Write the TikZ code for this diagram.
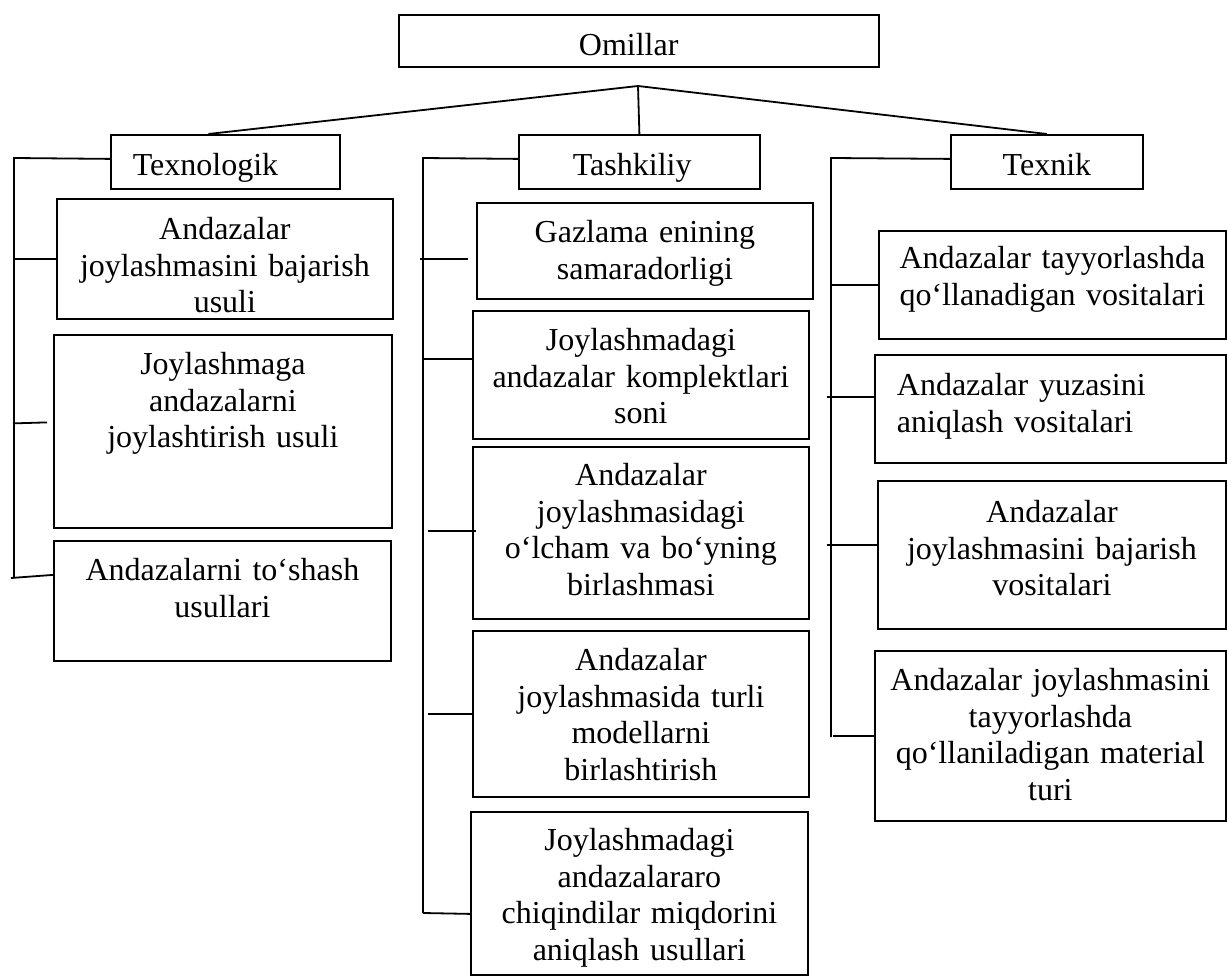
\documentclass[tikz,border=0pt]{standalone}
\usepackage{fontspec}
\setmainfont{Liberation Serif}
\usetikzlibrary{positioning}

\begin{document}
\begin{tikzpicture}[x=1pt,y=-1pt,
    box node/.style={draw,rectangle,line width=1.8pt,inner sep=0pt,anchor=north west,align=center,font=\fontsize{32}{36.5}\selectfont},
    link/.style={-,line width=1.8pt}]
  \useasboundingbox (0,0) rectangle (1227,976);

  \node[box node,align=left,inner xsep=180pt,text width=120pt,text height=41pt,text depth=11pt] (om) at (398,14) {Omillar};

  \node[box node,align=left,inner xsep=22pt,text width=185pt,text height=41pt,text depth=13pt] (tex) at (110,134) {Texnologik};
  \node[box node,align=left,inner xsep=54pt,text width=133pt,text height=41pt,text depth=13pt] (tash) at (518,134) {Tashkiliy};
  \node[box node,text width=192pt,text height=41pt,text depth=13pt] (texn) at (950,134) {Texnik};

  \coordinate (j) at (638,86);
  \path[link] (j) edge ([xshift=-17pt]tex.north);
  \path[link] (j) edge (tash.north);
  \path[link] (j) edge (texn.north);

  % Texnologik
  \begin{scope}
    \node[box node,text width=336pt,text height=41pt,text depth=79pt] (t1) at (56,198) {Andazalar\\joylashmasini bajarish\\usuli};
    \node[box node,text width=338pt,text height=40pt,text depth=153pt] (t2) at (53,334) {Joylashmaga\\andazalarni\\joylashtirish usuli};
    \node[box node,text width=337pt,text height=40pt,text depth=80pt] (t3) at (53,540) {Andazalarni to‘shash\\usullari};

    \coordinate (tl) at (14,158);
    \coordinate (tlb) at (14,578);
    \draw[link] ([yshift=3pt]tex.west) -- (tl) -- (tlb);
    \path[link] (t1.west -| tl) edge (t1.west);
    \path[link] ([shift={(-40,-8)}]t2.west) edge ([shift={(-6,-9)}]t2.west);
    \path[link] ([xshift=-3pt]tlb) edge ([yshift=26pt]t3.west);
  \end{scope}

  % Tashkiliy
  \begin{scope}
    \node[box node,text width=336pt,text height=40pt,text depth=56pt] (g1) at (476,202) {Gazlama enining\\samaradorligi};
    \node[box node,text width=336pt,text height=40pt,text depth=88pt] (g2) at (472,310) {Joylashmadagi\\andazalar komplektlari\\soni};
    \node[box node,text width=336pt,text height=39pt,text depth=133pt] (g3) at (472,446) {Andazalar\\joylashmasidagi\\o‘lcham va bo‘yning\\birlashmasi};
    \node[box node,text width=336pt,text height=40pt,text depth=126pt] (g4) at (472,630) {Andazalar\\joylashmasida turli\\modellarni\\birlashtirish};
    \node[box node,text width=337pt,text height=39pt,text depth=124pt] (g5) at (470,811) {Joylashmadagi\\andazalararo\\chiqindilar miqdorini\\aniqlash usullari};

    \coordinate (sl) at (423,158);
    \coordinate (slb) at (423,913);
    \draw[link] ([yshift=3pt]tash.west) -- (sl) -- (slb);
    \path[link] ([shift={(-56,8)}]g1.west) edge ([shift={(-8,8)}]g1.west);
    \path[link] ([shift={(-49,-16)}]g2.west) edge ([yshift=16pt]g2.west);
    \path[link] ([shift={(-44,-2)}]g3.west) edge ([shift={(4,-2)}]g3.west);
    \path[link] ([xshift=-44pt]g4.west) edge (g4.west);
    \path[link] (slb) edge ([yshift=-20.5pt]g5.west);
  \end{scope}

  % Texnik
  \begin{scope}
    \node[box node,text width=347pt,text height=38pt,text depth=70pt] (k1) at (878,230) {Andazalar tayyorlashda\\qo‘llanadigan vositalari};
    \node[box node,align=left,inner xsep=22pt,text width=307pt,text height=41pt,text depth=67pt] (k2) at (874,354) {Andazalar yuzasini\\aniqlash vositalari};
    \node[box node,text width=348pt,text height=42pt,text depth=106pt] (k3) at (877,480) {Andazalar\\joylashmasini bajarish\\vositalari};
    \node[box node,text width=351pt,text height=40pt,text depth=130pt] (k4) at (874,650) {Andazalar joylashmasini\\tayyorlashda\\qo‘llaniladigan material\\turi};

    \coordinate (kl) at (831,158);
    \coordinate (klb) at (831,737);
    \draw[link] ([yshift=3pt]texn.west) -- (kl) -- (klb);
    \path[link] (k1.west -| kl) edge (k1.west);
    \path[link] ([shift={(-47,-12)}]k2.west) edge ([yshift=12pt]k2.west);
    \path[link] ([shift={(-50,-10)}]k3.west) edge ([yshift=10pt]k3.west);
    \path[link] ([xshift=-41pt]k4.west) edge (k4.west);
  \end{scope}
\end{tikzpicture}
\end{document}
